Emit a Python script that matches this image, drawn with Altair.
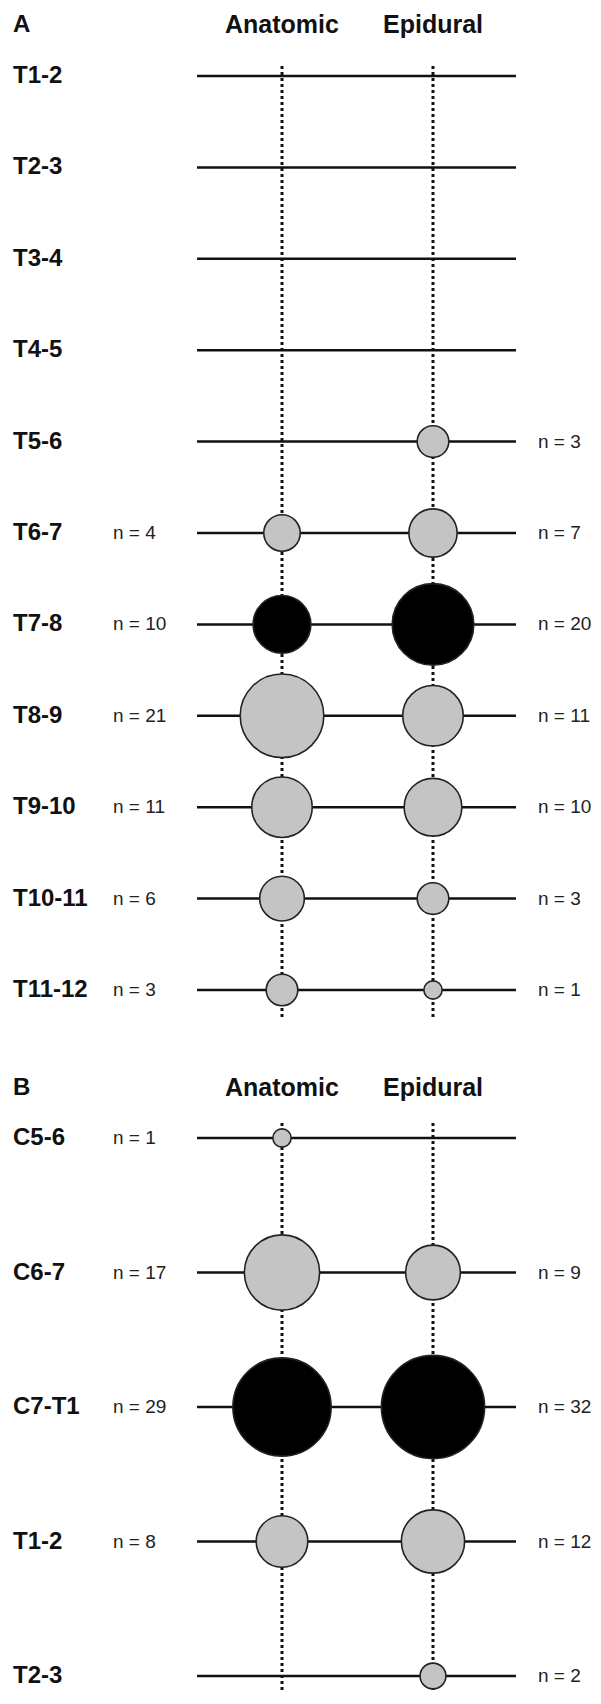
import altair as alt
import pandas as pd

# ---- data ----
methods = ["Anatomic", "Epidural"]

levels_A = ["T1-2", "T2-3", "T3-4", "T4-5", "T5-6", "T6-7", "T7-8", "T8-9", "T9-10", "T10-11", "T11-12"]
anatomic_A = [0, 0, 0, 0, 0, 4, 10, 21, 11, 6, 3]
epidural_A = [0, 0, 0, 0, 3, 7, 20, 11, 10, 3, 1]
peak_A = "T7-8"

levels_B = ["C5-6", "C6-7", "C7-T1", "T1-2", "T2-3"]
anatomic_B = [1, 17, 29, 8, 0]
epidural_B = [0, 9, 32, 12, 2]
peak_B = "C7-T1"

FONT = "Liberation Sans"
GREY = "#c4c4c4"
INK = "#111111"
W = 585


def panel(letter, levels, anat, epi, peak, height, row_range, head_y, dash_top, dash_bottom):
    lev = pd.DataFrame({"level": levels, "anat": anat, "epi": epi})
    rows = []
    for l, a, e in zip(levels, anat, epi):
        rows.append({"level": l, "method": "Anatomic", "n": a, "hl": "yes" if l == peak else "no"})
        rows.append({"level": l, "method": "Epidural", "n": e, "hl": "yes" if l == peak else "no"})
    long = pd.DataFrame(rows)
    meth = pd.DataFrame({"method": methods})

    xs = alt.Scale(type="point", domain=methods, range=[274, 425], padding=0)
    ys = alt.Scale(type="point", domain=levels, range=row_range, padding=0)
    X = alt.X("method:N", scale=xs, axis=None)
    Y = alt.Y("level:N", scale=ys, axis=None)

    hrule = alt.Chart(lev).mark_rule(strokeWidth=2.5, color=INK).encode(
        y=Y, x=alt.value(189), x2=alt.value(508))
    vrule = alt.Chart(meth).mark_rule(strokeWidth=3, color=INK, strokeDash=[3, 3]).encode(
        x=X, y=alt.value(dash_top), y2=alt.value(dash_bottom))
    circles = alt.Chart(long).transform_filter("datum.n > 0").mark_circle(
        opacity=1, stroke="#222222", strokeWidth=1.6).encode(
        x=X, y=Y,
        size=alt.Size("n:Q", scale=alt.Scale(domain=[0, 32], range=[0, 333 * 32]), legend=None),
        color=alt.Color("hl:N", scale=alt.Scale(domain=["no", "yes"], range=[GREY, "#000000"]), legend=None))
    heads = alt.Chart(meth).mark_text(fontSize=25, fontWeight="bold", font=FONT, color=INK,
                                      baseline="middle").encode(
        x=X, y=alt.value(head_y), text="method:N")
    letter_t = alt.Chart(pd.DataFrame({"t": [letter]})).mark_text(
        fontSize=24, fontWeight="bold", font=FONT, color=INK, align="left", baseline="middle").encode(
        x=alt.value(5), y=alt.value(head_y), text="t:N")
    lev_t = alt.Chart(lev).mark_text(fontSize=24, fontWeight="bold", font=FONT, color=INK,
                                     align="left", baseline="middle").encode(
        x=alt.value(5), y=Y, text="level:N")
    left_n = alt.Chart(lev).transform_filter("datum.anat > 0").transform_calculate(
        lab="'n = ' + datum.anat").mark_text(fontSize=19, font=FONT, color="#222222",
                                             align="left", baseline="middle").encode(
        x=alt.value(105), y=Y, text="lab:N")
    right_n = alt.Chart(lev).transform_filter("datum.epi > 0").transform_calculate(
        lab="'n = ' + datum.epi").mark_text(fontSize=19, font=FONT, color="#222222",
                                            align="left", baseline="middle").encode(
        x=alt.value(530), y=Y, text="lab:N")

    return alt.layer(hrule, vrule, circles, heads, letter_t, lev_t, left_n, right_n).properties(
        width=W, height=height)


pA = panel("A", levels_A, anatomic_A, epidural_A, peak_A, 1040, [68, 982], 17, 58, 1012)
pB = panel("B", levels_B, anatomic_B, epidural_B, peak_B, 644, [90, 628], 40, 75, 644)

chart = alt.vconcat(pA, pB, spacing=0).properties(padding=0, background="white").configure_view(
    stroke=None).configure_concat(spacing=0)

chart.save("out.html", embed_options={"renderer": "svg", "actions": False})
